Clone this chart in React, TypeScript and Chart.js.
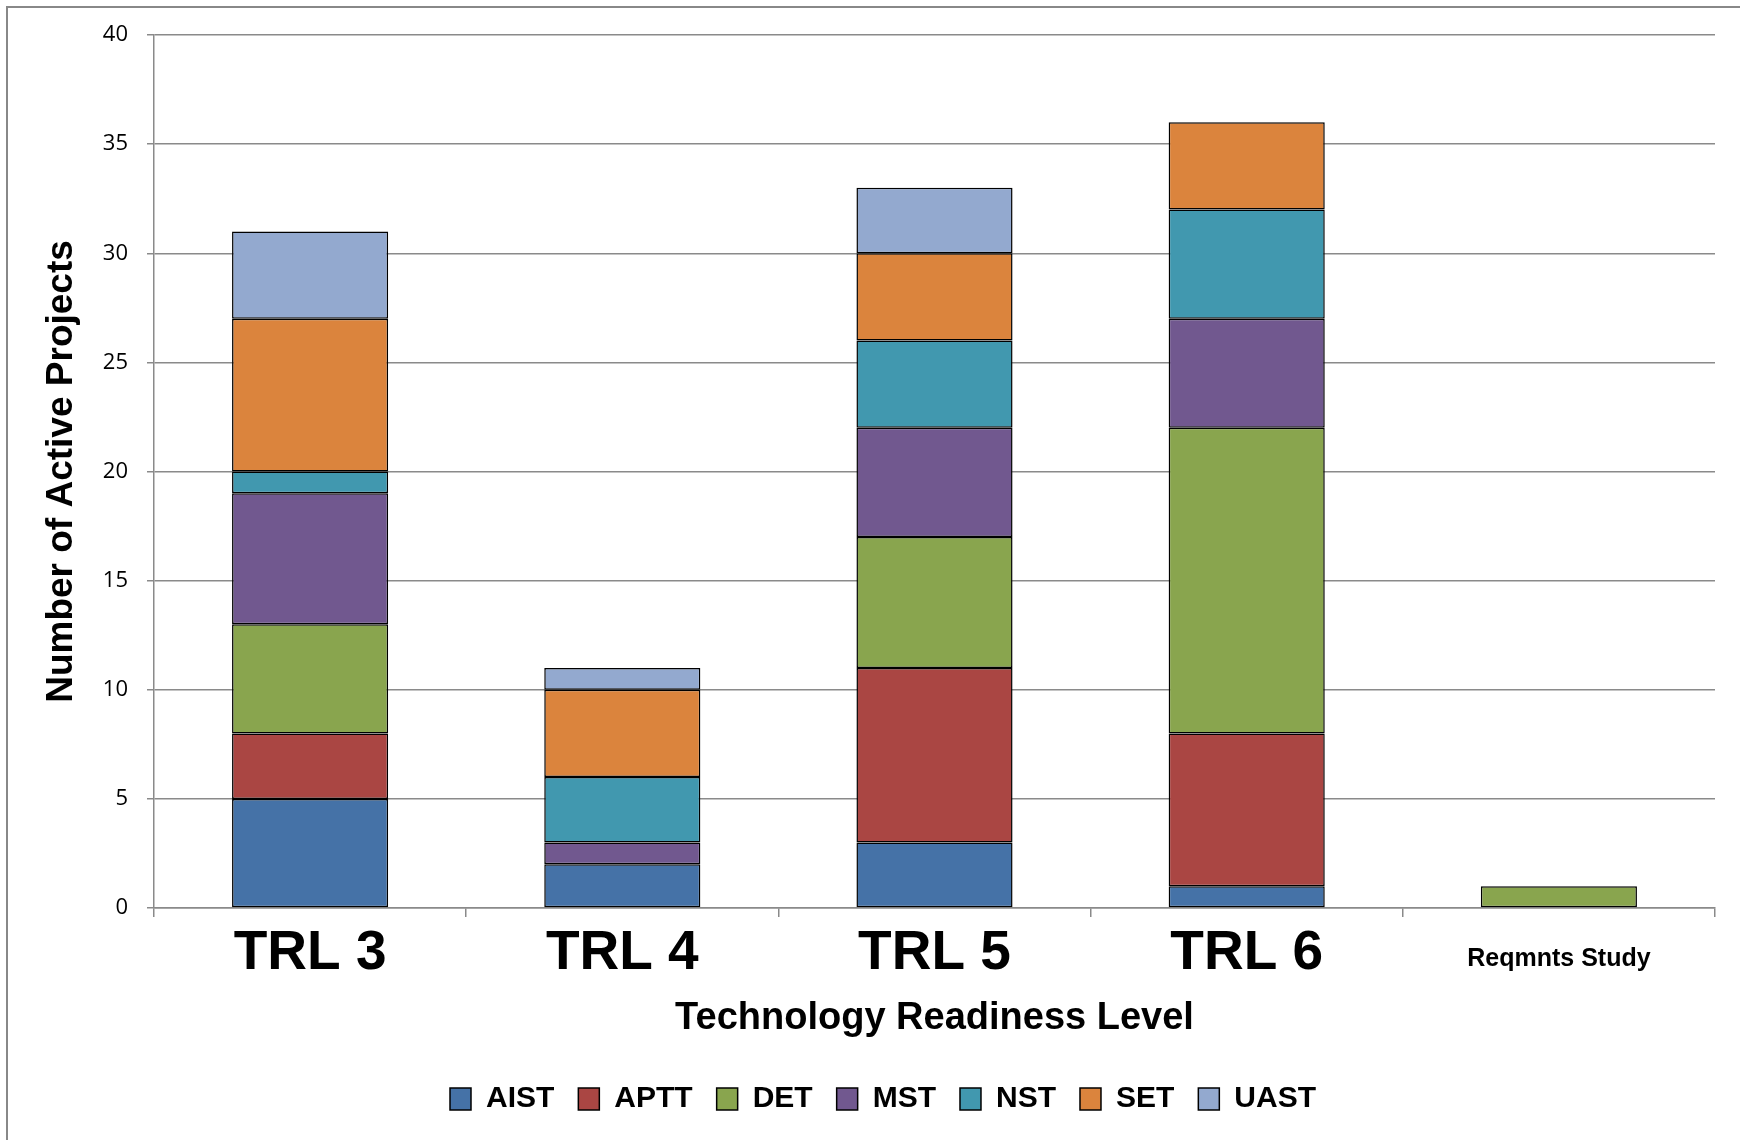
import React, { useEffect, useRef } from "react";
import { Chart, registerables } from "chart.js";

Chart.register(...registerables);

const categories = ["TRL 3", "TRL 4", "TRL 5", "TRL 6", "Reqmnts Study"];
const seriesNames = ["AIST", "APTT", "DET", "MST", "NST", "SET", "UAST"];
const aist = [5, 2, 3, 1, 0];
const aptt = [3, 0, 8, 7, 0];
const det = [5, 0, 6, 14, 1];
const mst = [6, 1, 5, 5, 0];
const nst = [1, 3, 4, 5, 0];
const setSeries = [7, 4, 4, 4, 0];
const uast = [4, 1, 3, 0, 0];
const seriesValues = [aist, aptt, det, mst, nst, setSeries, uast];
const seriesColors = ["#4572A7", "#AA4643", "#89A54E", "#71588F", "#4198AF", "#DB843D", "#93A9CF"];
const yMin = 0;
const yMax = 40;
const yStep = 5;
const yAxisTitle = "Number of Active Projects";
const xAxisTitle = "Technology Readiness Level";

const GRID = "#8a8a8a";

export default function App() {
  const ref = useRef<HTMLCanvasElement | null>(null);

  useEffect(() => {
    if (!ref.current) return;
    const chart = new Chart(ref.current, {
      type: "bar",
      data: {
        labels: categories,
        datasets: seriesNames.map((name, i) => ({
          label: name,
          data: seriesValues[i],
          backgroundColor: seriesColors[i],
          borderColor: "#000",
          borderWidth: 1.5,
          borderSkipped: false,
          categoryPercentage: 1,
          barPercentage: 0.5,
        })),
      },
      options: {
        animation: false,
        responsive: false,
        devicePixelRatio: 1,
        layout: { padding: { left: 51, right: 25, top: 35, bottom: 16 } },
        plugins: {
          legend: {
            position: "bottom",
            labels: {
              boxWidth: 21,
              boxHeight: 22,
              padding: 24,
              color: "#000",
              font: { family: "Liberation Sans", size: 30, weight: "bold" },
            },
          },
          tooltip: { enabled: false },
        },
        scales: {
          x: {
            stacked: true,
            grid: {
              display: true,
              drawOnChartArea: false,
              drawTicks: true,
              tickLength: 9,
              color: GRID,
              lineWidth: 1.5,
            },
            border: { display: true, color: GRID, width: 1.5 },
            ticks: {
              autoSkip: false,
              maxRotation: 0,
              minRotation: 0,
              padding: 7,
              color: "#000",
              font: (ctx: any) =>
                ctx.index === 4
                  ? { family: "Liberation Sans", size: 25, weight: "bold", lineHeight: 2.8 }
                  : { family: "Liberation Sans", size: 55, weight: "bold", lineHeight: 1.09 },
            },
            title: {
              display: true,
              text: xAxisTitle,
              color: "#000",
              font: { family: "Liberation Sans", size: 38, weight: "bold", lineHeight: 1.2 },
              padding: { top: 0, bottom: 19 },
            },
            afterFit: (s: any) => {
              s.height = 152;
            },
          },
          y: {
            stacked: true,
            min: yMin,
            max: yMax,
            ticks: {
              stepSize: yStep,
              padding: 19,
              color: "#000",
              font: { family: "Open Sans", size: 22 },
            },
            grid: { color: GRID, lineWidth: 1.5, tickLength: 7, drawTicks: true },
            border: { display: true, color: GRID, width: 1.5 },
            title: {
              display: true,
              text: yAxisTitle,
              color: "#000",
              font: { family: "Liberation Sans", size: 37, weight: "bold", lineHeight: 0.6 },
              padding: 0,
            },
            afterFit: (s: any) => {
              s.width = 103;
            },
          },
        },
      } as any,
    });
    return () => chart.destroy();
  }, []);

  return (
    <div
      style={{
        position: "fixed",
        left: 0,
        top: 0,
        width: 1740,
        height: 1140,
        overflow: "hidden",
        background: "#fff",
      }}
    >
      <div
        style={{
          position: "absolute",
          left: 6,
          top: 6,
          width: 2000,
          height: 2000,
          borderLeft: "2px solid #888",
          borderTop: "2px solid #888",
        }}
      />
      <canvas
        ref={ref}
        width={1740}
        height={1140}
        style={{ position: "absolute", left: 0, top: 0, width: 1740, height: 1140 }}
      />
    </div>
  );
}
